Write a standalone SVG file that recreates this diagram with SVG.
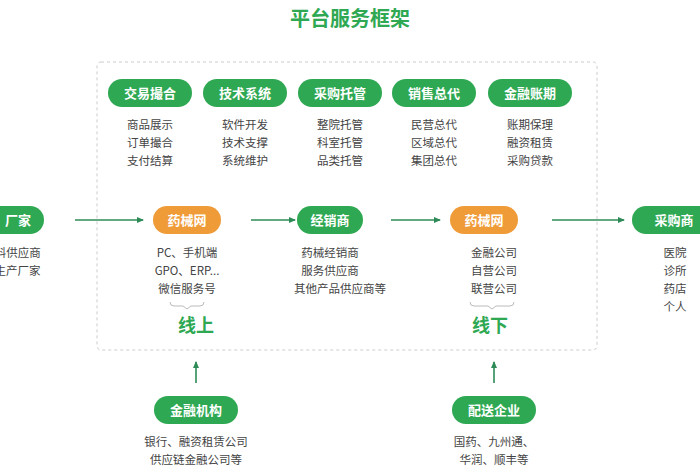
<svg xmlns="http://www.w3.org/2000/svg" width="700" height="470" viewBox="0 0 700 470">
<defs>
<style>
text{font-family:"Noto Sans CJK SC","Noto Sans",sans-serif;text-anchor:middle}
.g{fill:#2ea852}.o{fill:#ef9b38}
.pt{fill:#fff;font-size:13px;font-weight:bold}
.s{fill:#444;font-size:11.5px}
.big{fill:#2ea852;font-size:18px;font-weight:bold}
.ln{stroke:#2e8b57;stroke-width:1.6;fill:none;marker-end:url(#a)}
</style>
<marker id="a" markerWidth="8" markerHeight="8" refX="6" refY="4" orient="auto" markerUnits="userSpaceOnUse"><path d="M0,1 L7,4 L0,7z" fill="#2e8b57"/></marker>
</defs>
<rect width="700" height="470" fill="#fff"/>
<text x="350" y="26" class="big" style="font-size:20px">平台服务框架</text>
<rect x="97" y="62" width="500" height="288" rx="4" fill="none" stroke="#ccc" stroke-dasharray="3,3"/>
<g id="top">
<g id="t1"><rect x="108" y="79" width="84" height="28" rx="14" class="g"/><text x="150" y="98" class="pt">交易撮合</text><text x="150" y="129" class="s">商品展示</text><text x="150" y="147" class="s">订单撮合</text><text x="150" y="165" class="s">支付结算</text></g>
<g id="t2"><rect x="203" y="79" width="84" height="28" rx="14" class="g"/><text x="245" y="98" class="pt">技术系统</text><text x="245" y="129" class="s">软件开发</text><text x="245" y="147" class="s">技术支撑</text><text x="245" y="165" class="s">系统维护</text></g>
<g id="t3"><rect x="298" y="79" width="84" height="28" rx="14" class="g"/><text x="340" y="98" class="pt">采购托管</text><text x="340" y="129" class="s">整院托管</text><text x="340" y="147" class="s">科室托管</text><text x="340" y="165" class="s">品类托管</text></g>
<g id="t4"><rect x="392" y="79" width="84" height="28" rx="14" class="g"/><text x="434" y="98" class="pt">销售总代</text><text x="434" y="129" class="s">民营总代</text><text x="434" y="147" class="s">区域总代</text><text x="434" y="165" class="s">集团总代</text></g>
<g id="t5"><rect x="488" y="79" width="84" height="28" rx="14" class="g"/><text x="530" y="98" class="pt">金融账期</text><text x="530" y="129" class="s">账期保理</text><text x="530" y="147" class="s">融资租赁</text><text x="530" y="165" class="s">采购贷款</text></g>
</g>
<g id="n1"><rect x="-20" y="206" width="64" height="28" rx="14" class="g"/><text x="18" y="225" class="pt">厂家</text><text x="12" y="257" class="s">原料供应商</text><text x="6" y="275" class="s">器械生产厂家</text></g>
<g id="n2"><rect x="153" y="206" width="68" height="28" rx="14" class="o"/><text x="187" y="225" class="pt">药械网</text><text x="187" y="257" class="s">PC、手机端</text><text x="187" y="275" class="s">GPO、ERP...</text><text x="187" y="293" class="s">微信服务号</text>
<path d="M170,302 q0,4 4,4 h9 l4,3 l4,-3 h9 q4,0 4,-4" fill="none" stroke="#bbb"/><text x="196" y="332" class="big">线上</text></g>
<g id="n3"><rect x="297" y="206" width="66" height="28" rx="14" class="g"/><text x="330" y="225" class="pt">经销商</text><text x="330" y="257" class="s">药械经销商</text><text x="330" y="275" class="s">服务供应商</text><text x="340" y="293" class="s">其他产品供应商等</text></g>
<g id="n4"><rect x="450" y="206" width="68" height="28" rx="14" class="o"/><text x="484" y="225" class="pt">药械网</text><text x="494" y="257" class="s">金融公司</text><text x="494" y="275" class="s">自营公司</text><text x="494" y="293" class="s">联营公司</text>
<path d="M470,302 q0,4 4,4 h14 l4,3 l4,-3 h14 q4,0 4,-4" fill="none" stroke="#bbb"/><text x="490" y="332" class="big">线下</text></g>
<g id="n5"><rect x="632" y="206" width="90" height="28" rx="14" class="g"/><text x="674" y="225" class="pt">采购商</text><text x="675" y="257" class="s">医院</text><text x="675" y="275" class="s">诊所</text><text x="675" y="293" class="s">药店</text><text x="675" y="311" class="s">个人</text></g>
<g id="b1"><rect x="154" y="396" width="84" height="28" rx="14" class="g"/><text x="196" y="415" class="pt">金融机构</text><text x="196" y="446" class="s">银行、融资租赁公司</text><text x="196" y="464" class="s">供应链金融公司等</text></g>
<g id="b2"><rect x="452" y="396" width="84" height="28" rx="14" class="g"/><text x="494" y="415" class="pt">配送企业</text><text x="494" y="446" class="s">国药、九州通、</text><text x="494" y="464" class="s">华润、顺丰等</text></g>
<g id="connectors">
<path d="M75,220 H143" class="ln"/><path d="M251,220 H295" class="ln"/><path d="M391,220 H440" class="ln"/><path d="M552,220 H624" class="ln"/>
<path d="M196,383 V362" class="ln"/><path d="M494,383 V362" class="ln"/>
</g>
</svg>
